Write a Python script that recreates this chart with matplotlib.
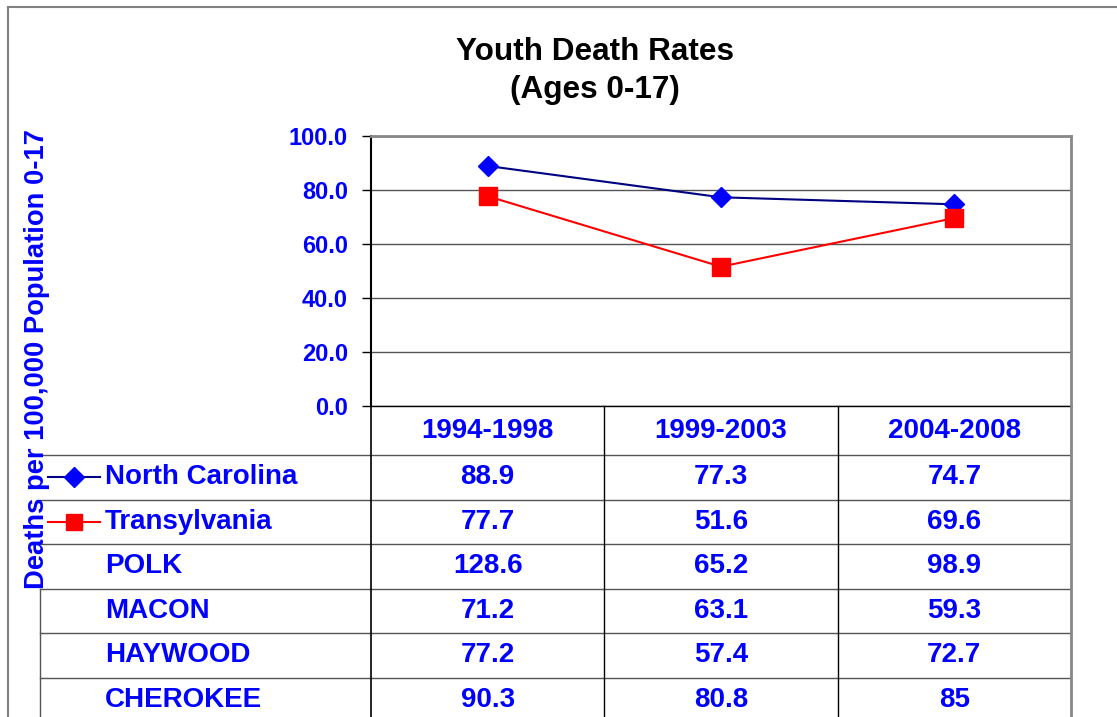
import matplotlib
matplotlib.use("Agg")
import matplotlib.pyplot as plt
from matplotlib.lines import Line2D

plt.rcParams['font.family'] = ['Liberation Sans', 'DejaVu Sans']

periods = ["1994-1998", "1999-2003", "2004-2008"]
nc = [88.9, 77.3, 74.7]
transylvania = [77.7, 51.6, 69.6]
polk = ["128.6", "65.2", "98.9"]
macon = ["71.2", "63.1", "59.3"]
haywood = ["77.2", "57.4", "72.7"]
cherokee = ["90.3", "80.8", "85"]
yticks = [0, 20, 40, 60, 80, 100]

row_names = ["North Carolina", "Transylvania", "POLK", "MACON", "HAYWOOD", "CHEROKEE"]
row_vals = [[f"{v:.1f}" for v in nc], [f"{v:.1f}" for v in transylvania],
            polk, macon, haywood, cherokee]

W, H = 1117, 717
BLUE = "#0000FF"
FS = 20
fig = plt.figure(figsize=(W / 100, H / 100), dpi=100)

def fx(px):
    return px / W

def fy(py):
    return 1 - py / H

# outer chart border
fig.add_artist(Line2D([fx(8), fx(8)], [fy(7), 0], color="#808080", lw=1.5, transform=fig.transFigure))
fig.add_artist(Line2D([fx(8), 1], [fy(7), fy(7)], color="#808080", lw=1.5, transform=fig.transFigure))

L, R, T, B = 371, 1071, 136, 406
ax = fig.add_axes([fx(L), fy(B), fx(R) - fx(L), fy(T) - fy(B)])
x = list(range(len(periods)))
ax.plot(x, nc, color="#000080", lw=1.5, marker="D", markersize=10.5,
        markerfacecolor=BLUE, markeredgecolor=BLUE, zorder=3)
ax.plot(x, transylvania, color="#FF0000", lw=1.5, marker="s", markersize=13.5,
        markerfacecolor="#FF0000", markeredgecolor="#FF0000", zorder=3)
ax.set_xlim(-0.5, len(periods) - 0.5)
ax.set_ylim(0, 100)
ax.set_yticks(yticks)
ax.set_yticklabels([f"{v:.1f}" for v in yticks], color=BLUE, fontsize=17, fontweight="bold")
ax.tick_params(axis="y", length=6.5, width=1, color="black", pad=10)
ax.set_xticks([])
ax.grid(axis="y", color="#555555", lw=1)
ax.set_axisbelow(True)
ax.spines["left"].set_color("black")
ax.spines["left"].set_linewidth(1.5)
ax.spines["bottom"].set_color("black")
ax.spines["bottom"].set_linewidth(1)
ax.spines["top"].set_color("#888888")
ax.spines["top"].set_linewidth(2)
ax.spines["right"].set_color("#888888")
ax.spines["right"].set_linewidth(2)

# title
fig.text(fx(595), fy(52), "Youth Death Rates", ha="center", va="center",
         fontsize=22.7, fontweight="bold", color="black")
fig.text(fx(595), fy(90), "(Ages 0-17)", ha="center", va="center",
         fontsize=22.7, fontweight="bold", color="black")

# data table axes (same x scale as the plot)
tab = fig.add_axes([fx(L), 0, fx(R) - fx(L), fy(B)])
tab.set_xlim(-0.5, len(periods) - 0.5)
tab.set_ylim(H, B)
tab.axis("off")

def px2x(px):
    return (px - L) / (R - L) * len(periods) - 0.5

header_bottom = 455
row_h = 44.5
line_col = "#555555"
left_edge = px2x(40)
# header
for i, p in enumerate(periods):
    tab.text(i, (B + header_bottom) / 2 + 1, p, ha="center", va="center",
             color=BLUE, fontsize=FS, fontweight="bold")
# horizontal lines
for k in range(len(row_names) + 1):
    yy = header_bottom + k * row_h
    tab.plot([left_edge, 2.5], [yy, yy], color=line_col, lw=1, clip_on=False)
# vertical lines
tab.plot([-0.5, -0.5], [B, H], color="black", lw=1.2, clip_on=False)
for i in range(1, len(periods)):
    tab.plot([i - 0.5, i - 0.5], [B, H], color="black", lw=1, clip_on=False)
tab.plot([2.5, 2.5], [B, H], color="#888888", lw=2, clip_on=False)
tab.plot([left_edge, left_edge], [header_bottom + 3 * row_h, H], color=line_col, lw=1, clip_on=False)

name_x = px2x(105)
for r, (name, vals) in enumerate(zip(row_names, row_vals)):
    yc = header_bottom + (r + 0.5) * row_h
    tab.text(name_x, yc, name, ha="left", va="center", color=BLUE,
             fontsize=FS, fontweight="bold", clip_on=False)
    for i, v in enumerate(vals):
        tab.text(i, yc, v, ha="center", va="center", color=BLUE,
                 fontsize=FS, fontweight="bold")

# legend keys
ky0 = header_bottom + 0.5 * row_h
tab.plot([px2x(48), px2x(100)], [ky0, ky0], color="#000080", lw=1.5, clip_on=False)
tab.plot([px2x(74)], [ky0], marker="D", markersize=10, color=BLUE, clip_on=False)
ky1 = header_bottom + 1.5 * row_h
tab.plot([px2x(48), px2x(100)], [ky1, ky1], color="#FF0000", lw=1.5, clip_on=False)
tab.plot([px2x(74)], [ky1], marker="s", markersize=12, color="#FF0000", clip_on=False)

# y-axis title
fig.text(fx(37), fy(359), "Deaths per 100,000 Population 0-17", rotation=90,
         ha="center", va="center", color=BLUE, fontsize=19.7, fontweight="bold",
         zorder=10)

fig.savefig("out.png", dpi=100)
